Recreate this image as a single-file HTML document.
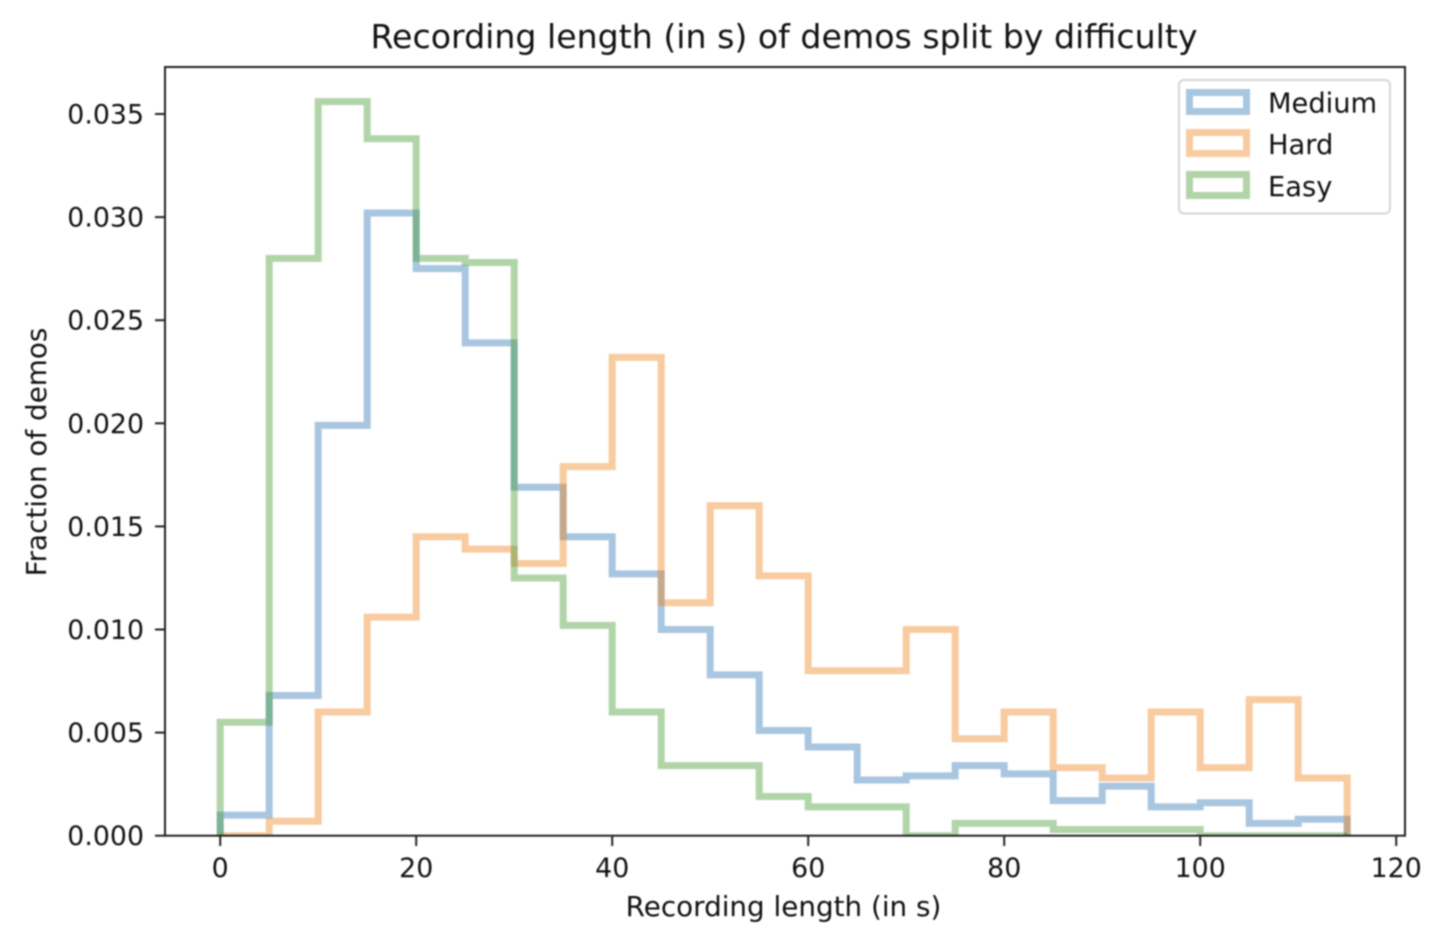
<!DOCTYPE html>
<html lang="en">
<head>
<meta charset="utf-8">
<title>Recording length histogram</title>
<style>
html,body{margin:0;padding:0;background:#fff;width:1452px;height:942px;overflow:hidden}
svg{display:block;filter:blur(0.7px)}
text{font-family:"DejaVu Sans","Liberation Sans",sans-serif;fill:#111}
</style>
</head>
<body>
<svg id="chart" width="1452" height="942" viewBox="0 0 1452 942" xmlns="http://www.w3.org/2000/svg">
<defs><clipPath id="plot-clip"><rect x="165" y="67" width="1240" height="768.7"/></clipPath></defs>
<text x="784" y="48" text-anchor="middle" font-size="33.2">Recording length (in s) of demos split by difficulty</text>
<text x="783.5" y="916" text-anchor="middle" font-size="27.8">Recording length (in s)</text>
<text transform="translate(46,452) rotate(-90)" text-anchor="middle" font-size="27.8">Fraction of demos</text>
<g id="series" clip-path="url(#plot-clip)"></g>
<g id="ticks"></g>
<rect x="165" y="67" width="1240" height="768.7" fill="none" stroke="#222" stroke-width="2"/>
<g>
<rect x="1179" y="80" width="211" height="133.5" rx="5" fill="#fff" fill-opacity="0.8" stroke="#d6d6d6" stroke-width="2"/>
<g>
<rect x="1189.5" y="92.5" width="57" height="19" fill="none" stroke="#2870b1" stroke-opacity="0.4" stroke-width="7"/>
<text x="1268" y="112.5" font-size="27.3">Medium</text>
</g>
<g>
<rect x="1189.5" y="132.5" width="57" height="21" fill="none" stroke="#ee7d12" stroke-opacity="0.4" stroke-width="7"/>
<text x="1268" y="154" font-size="27.3">Hard</text>
</g>
<g>
<rect x="1189.5" y="174.5" width="57" height="21" fill="none" stroke="#3c9628" stroke-opacity="0.4" stroke-width="7"/>
<text x="1268" y="196" font-size="27.3">Easy</text>
</g>
</g>
</svg>
<script>
const binStart = 0;
const binWidth = 5;
const mediumValues = [0.0010,0.0068,0.0199,0.0302,0.0275,0.0239,0.0169,0.0145,0.0127,0.0100,0.0078,0.0051,0.0043,0.0027,0.0029,0.0034,0.0030,0.0017,0.0024,0.0014,0.0016,0.0006,0.0008];
const hardValues = [0.0000,0.0007,0.0060,0.0106,0.0145,0.0139,0.0132,0.0179,0.0232,0.0113,0.0160,0.0126,0.0080,0.0080,0.0100,0.0047,0.0060,0.0033,0.0028,0.0060,0.0033,0.0066,0.0028];
const easyValues = [0.0055,0.0280,0.0356,0.0338,0.0280,0.0278,0.0125,0.0102,0.0060,0.0034,0.0034,0.0019,0.0014,0.0014,0.0000,0.0006,0.0006,0.0003,0.0003,0.0003,0.0000,0.0000,0.0000];
const xTickValues = [0,20,40,60,80,100,120];
const yTickValues = [0,0.005,0.010,0.015,0.020,0.025,0.030,0.035];
const yTickLabels = ["0.000","0.005","0.010","0.015","0.020","0.025","0.030","0.035"];

const NS = 'http://www.w3.org/2000/svg';
function xScale(v){ return 220.2 + v * 9.8; }
function yScale(v){ return 835.7 - v * 20620; }

function stepPath(values){
  let d = 'M' + xScale(binStart) + ' ' + yScale(0);
  values.forEach(function(v,i){
    const x0 = xScale(binStart + i * binWidth);
    const x1 = xScale(binStart + (i + 1) * binWidth);
    d += 'L' + x0 + ' ' + yScale(v) + 'L' + x1 + ' ' + yScale(v);
  });
  d += 'L' + xScale(binStart + values.length * binWidth) + ' ' + yScale(0);
  return d;
}

const seriesGroup = document.getElementById('series');
function addSeries(values, color, name){
  const p = document.createElementNS(NS,'path');
  p.setAttribute('d', stepPath(values));
  p.setAttribute('fill','none');
  p.setAttribute('stroke',color);
  p.setAttribute('stroke-opacity','0.4');
  p.setAttribute('stroke-width','7');
  p.setAttribute('stroke-linejoin','miter');
  
  
  seriesGroup.appendChild(p);
}
addSeries(mediumValues,'#2870b1','series-medium');
addSeries(hardValues,'#ee7d12','series-hard');
addSeries(easyValues,'#3c9628','series-easy');

const tickGroup = document.getElementById('ticks');
function addLine(x1,y1,x2,y2,name){
  const l = document.createElementNS(NS,'line');
  l.setAttribute('x1',x1);
  l.setAttribute('y1',y1);
  l.setAttribute('x2',x2);
  l.setAttribute('y2',y2);
  l.setAttribute('stroke','#222');
  l.setAttribute('stroke-width','2');
  
  
  tickGroup.appendChild(l);
}
function addLabel(x,y,anchor,str,name){
  const t = document.createElementNS(NS,'text');
  t.setAttribute('x',x);
  t.setAttribute('y',y);
  t.setAttribute('text-anchor',anchor);
  t.setAttribute('font-size','26.8');
  t.textContent = str;
  
  
  tickGroup.appendChild(t);
}
xTickValues.forEach(function(v){
  addLine(xScale(v),835.7,xScale(v),846,'x-tick-mark');
  addLabel(xScale(v),877,'middle',String(v),'x-tick-label');
});
yTickValues.forEach(function(v,i){
  addLine(155,yScale(v),165,yScale(v),'y-tick-mark');
  addLabel(144,yScale(v)+9.5,'end',yTickLabels[i],'y-tick-label');
});
</script>
</body>
</html>
